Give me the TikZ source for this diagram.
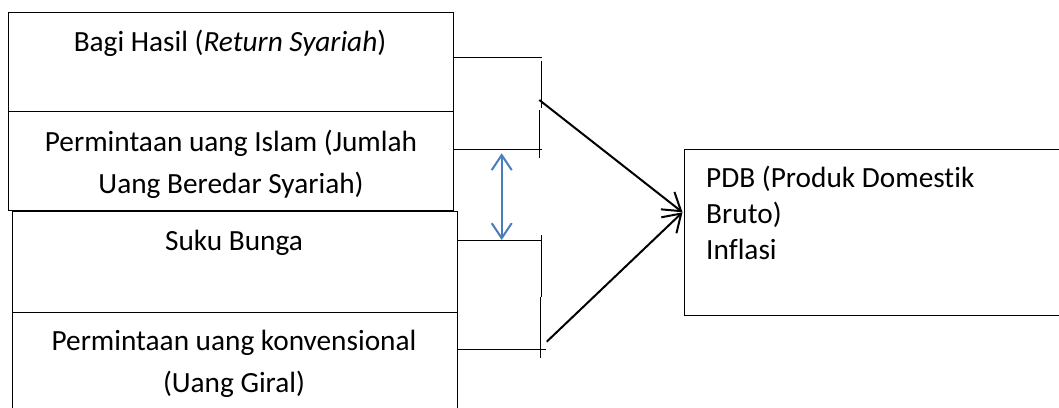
\documentclass[tikz,border=0pt]{standalone}
\usepackage{fontspec}
\setmainfont{Carlito}[Ligatures={NoCommon}]
\usetikzlibrary{arrows.meta,calc}
\definecolor{arrowblue}{HTML}{4A7EBB}
\begin{document}
\begin{tikzpicture}[x=1pt,y=-1pt,
  box/.style={draw, line width=1.4pt, inner sep=0pt, anchor=north west},
  txt/.style={inner sep=0pt, anchor=base, font=\fontsize{29.3}{40}\selectfont},
  brk/.style={line width=1.5pt},
  arr/.style={line width=2pt, -{Straight Barb[length=17pt,width=22pt,line width=2pt]}},
  barr/.style={line width=2pt, color=arrowblue, {Straight Barb[length=15pt,width=20pt,line width=2pt]}-{Straight Barb[length=15pt,width=20pt,line width=2pt]}}]
\useasboundingbox (0,0) rectangle (1059,407);
\clip (0,0) rectangle (1059,407);
% boxes
\node[box, minimum width=444.5pt, minimum height=99pt] (b1) at (8,12) {};
\node[box, minimum width=444.5pt, minimum height=99pt] (b2) at (8,111) {};
\node[box, minimum width=445pt, minimum height=101pt] (b3) at (12,210.5) {};
\node[box, minimum width=445pt, minimum height=120pt] (b4) at (12,311.5) {};
\node[box, minimum width=400pt, minimum height=166pt] (out) at (684,149) {};
% texts
\node[txt] (t1) at (230,51) {Bagi Hasil (\textit{Return Syariah})};
\node[txt] (t2) at (231,151) {\begin{tabular}[t]{@{}c@{}}Permintaan uang Islam (Jumlah\\[2pt] Uang Beredar Syariah)\end{tabular}};
\node[txt] (t3) at (234,250) {Suku Bunga};
\node[txt] (t4) at (234,350) {\begin{tabular}[t]{@{}c@{}}Permintaan uang konvensional\\[2pt] (Uang Giral)\end{tabular}};
\node[txt, anchor=base west, font=\fontsize{29.3}{36}\selectfont] (t5) at (706,187) {\begin{tabular}[t]{@{}l@{}}PDB (Produk Domestik\\ Bruto)\\ Inflasi\end{tabular}};
% upper bracket
\coordinate (ua) at (541.7,57.5);
\coordinate (ub) at (541.7,108.3);
\coordinate (uc) at (539.7,110);
\coordinate (ud) at (539.7,158.3);
\coordinate (ue) at (541.7,149.3);
\coordinate (us) at (539.3,100);
\draw[brk] (b1.east |- ua) -- (ua);
\draw[brk] ($(ua)+(0,3)$) -- (ub);
\draw[brk] (uc) -- (ud);
\draw[brk] (b2.east |- ue) -- (ue);
% lower bracket
\coordinate (la) at (541.7,240.7);
\coordinate (lb) at (541.7,235);
\coordinate (lc) at (541.7,296.7);
\coordinate (ld) at (540.7,296.7);
\coordinate (le) at (540.7,358.3);
\coordinate (lf) at (546,349.3);
\coordinate (ls) at (546.7,341.7);
\draw[brk] (b3.east |- la) -- (la);
\draw[brk] (lb) -- (lc);
\draw[brk] (ld) -- (le);
\draw[brk] (b4.east |- lf) -- (lf);
% arrows to output
\coordinate (tip) at ($(out.north west)!0.378!(out.south west)+(-1.5,0)$);
\draw[arr] (us) -- (tip);
\draw[arr] (ls) -- (tip);
% blue double arrow
\coordinate (bt) at (501.7,153.3);
\coordinate (bb) at (501.7,240);
\draw[barr] (bt) -- (bb);
\end{tikzpicture}
\end{document}
